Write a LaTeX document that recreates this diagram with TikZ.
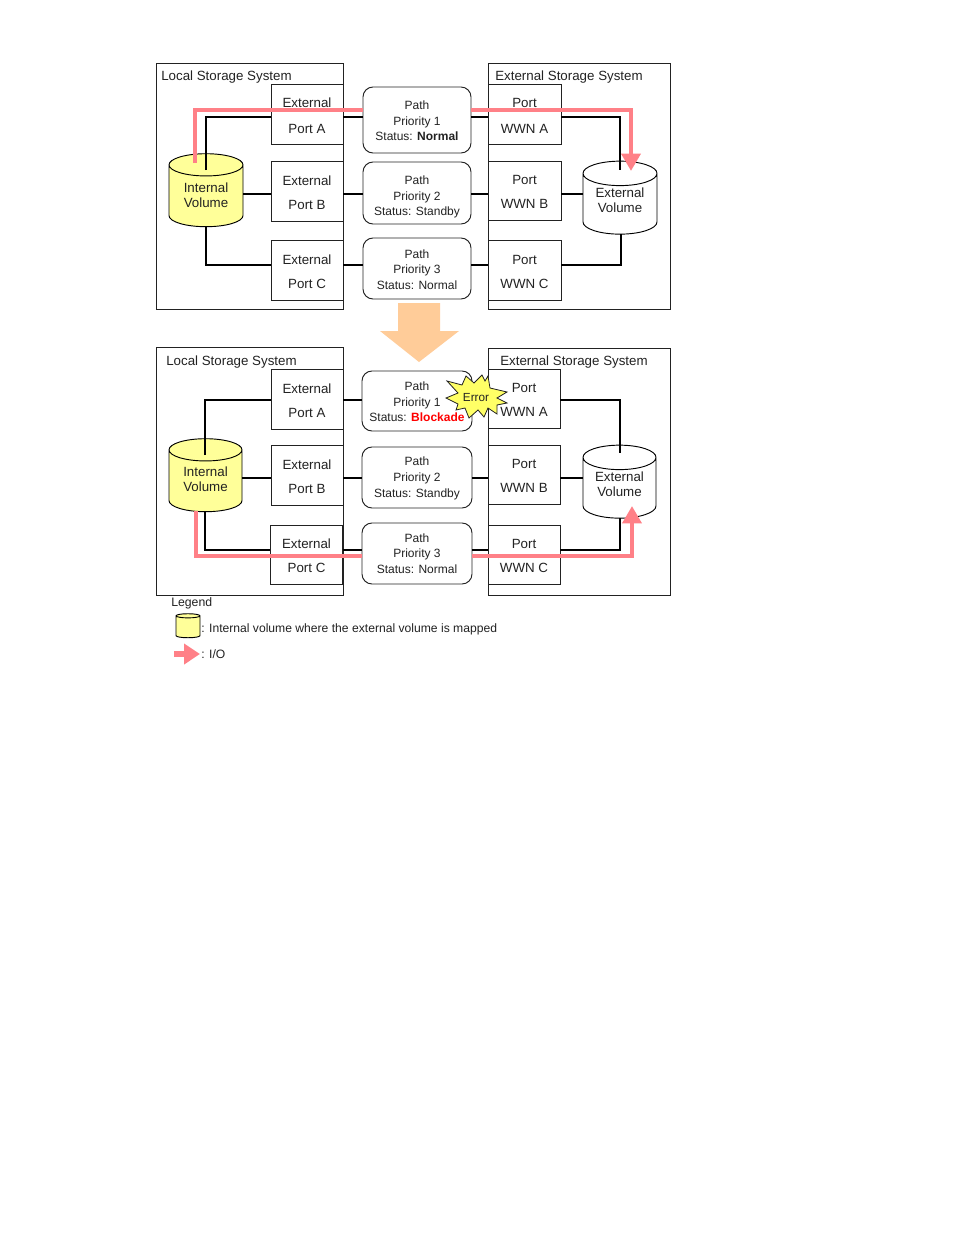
\documentclass[tikz,border=0pt]{standalone}
\usepackage{fontspec}
\setmainfont{Liberation Sans}
\usetikzlibrary{shapes.geometric,arrows.meta}
\definecolor{ioPink}{HTML}{FF8087}
\definecolor{volYellow}{HTML}{FFFF99}
\definecolor{burst}{HTML}{FFFF66}
\definecolor{bigArrow}{HTML}{FFCC99}
\definecolor{ink}{HTML}{222222}
% struts that push a node's text block down (first line) or up (last line)
\newcommand{\lift}[1]{\rule{0pt}{#1}}
\newcommand{\drop}[1]{\rule[-#1]{0pt}{1pt}}
\newcommand{\pl}{\lift{9.5pt}}
\newcommand{\pp}{\lift{8pt}}
\tikzset{
  x=0.75pt, y=-0.75pt,
  sized/.style n args={2}{minimum width=#1*0.75pt, minimum height=#2*0.75pt},
  panel/.style={draw=ink, line width=0.7pt, fill=white, inner sep=0pt},
  portbox/.style={draw=ink, line width=0.7pt, fill=white, inner sep=0pt, align=center,
    text=ink, font=\fontsize{10}{18}\selectfont},
  portlabel/.style={inner sep=0pt, align=center, text=ink, font=\fontsize{10}{18}\selectfont},
  pathbox/.style={draw=ink, line width=0.7pt, fill=white, inner sep=0pt, align=center,
    rounded corners=7.5pt, text=ink, font=\fontsize{9}{11.7}\selectfont},
  title/.style={inner sep=0pt, text=ink, font=\fontsize{10}{12}\selectfont, anchor=west},
  note/.style={inner sep=0pt, text=ink, font=\fontsize{9.1}{11}\selectfont, anchor=west},
  volume/.style={cylinder, shape border rotate=90, draw=black, line width=0.7pt, inner sep=0pt,
    shape aspect=0.5, align=center, text=ink, font=\fontsize{10}{11.6}\selectfont},
  yellowvol/.style={volume, cylinder uses custom fill, cylinder body fill=volYellow, cylinder end fill=volYellow},
  whitevol/.style={volume, cylinder uses custom fill, cylinder body fill=white, cylinder end fill=white},
  link/.style={draw=black, line width=2pt},
  thinlink/.style={draw=black, line width=1.2pt},
  io/.style={draw=ioPink, line width=3.6pt},
  iotip/.style={io, -{Triangle[length=13pt, width=14pt, color=ioPink]}},
}
\begin{document}
\begin{tikzpicture}
\useasboundingbox (0,0) rectangle (954,1235);
\fill[white] (0,0) rectangle (954,1235);

% ---------- upper state: I/O over path 1 ----------
\node[panel, sized={187}{246}] (localU) at (249.5,186) {};
\node[panel, sized={182}{246}] (extU) at (579,186) {};
\node[title] (localUt) at (161,77) {Local Storage System};
\node[title] (extUt) at (495,77) {External Storage System};

\node[portbox, sized={72}{60}] (epA) at (307,114) {\pl External\\[1.5pt]Port A};
\node[portbox, sized={72}{60}] (epB) at (307,191) {\pl External\\Port B};
\node[portbox, sized={72}{60}] (epC) at (307,270) {\pl External\\Port C};
\node[portbox, sized={73}{60}] (wwA) at (524.5,114) {\pl Port\\[1.5pt]WWN A};
\node[portbox, sized={73}{59}] (wwB) at (524.5,190.5) {\pl Port\\WWN B};
\node[portbox, sized={73}{60}] (wwC) at (524.5,270) {\pl Port\\WWN C};

\node[pathbox, sized={108}{66}] (pA) at (417,120) {\pp Path\\Priority 1\\Status: \textbf{Normal}};
\node[pathbox, sized={108}{62}] (pB) at (417,193) {\lift{12.5pt}Path\\Priority 2\\Status: Standby};
\node[pathbox, sized={108}{61}] (pC) at (417,268.5) {\pp Path\\Priority 3\\Status: Normal};

\coordinate (intUin) at (206,170);
\coordinate (extUin) at (620,170);
\coordinate (intUout) at (206,227);
\coordinate (extUout) at (621,234);
\coordinate (ioUfrom) at (195,163);
\coordinate (ioUto) at (631,171);

\node[yellowvol, sized={74}{73}] (intU) at (206,196) {Internal\\Volume\drop{1.5pt}};
\node[whitevol, sized={74}{73}] (extV) at (620,204) {External\\Volume\drop{6pt}};

\draw[link] (intUin) |- (epA.west |- 0,117);
\draw[link] (epA.east |- 0,117) -- (pA.west |- 0,117);
\draw[link] (pA.east |- 0,117) -- (wwA.west |- 0,117);
\draw[link] (wwA.east |- 0,117) -| (extUin);
\draw[link] (intU.east |- 0,194) -- (epB.west |- 0,194);
\draw[link] (epB.east |- 0,194) -- (pB.west |- 0,194);
\draw[link] (pB.east |- 0,194) -- (wwB.west |- 0,194);
\draw[link] (wwB.east |- 0,194) -- (extV.west |- 0,194);
\draw[link] (intUout) |- (epC.west |- 0,265);
\draw[link] (epC.east |- 0,265) -- (pC.west |- 0,265);
\draw[link] (pC.east |- 0,265) -- (wwC.west |- 0,265);
\draw[link] (wwC.east |- 0,265) -| (extUout);

\draw[io] (ioUfrom) |- (pA.west |- 0,110);
\draw[iotip] (pA.east |- 0,110) -| (ioUto);

% ---------- transition arrow ----------
\fill[bigArrow] (398,303) -- (440,303) -- (440,331) -- (459,331) -- (419,362)
  -- (380,331) -- (398,331) -- cycle;

% ---------- lower state: path 1 blocked, I/O over path 3 ----------
\node[panel, sized={187}{248}] (localL) at (249.5,471) {};
\node[panel, sized={182}{247}] (extL) at (579,471.5) {};
\node[title] (localLt) at (166,362) {Local Storage System};
\node[title] (extLt) at (500,362) {External Storage System};

\node[portbox, sized={72}{60}] (lepA) at (307,399) {\pl External\\Port A};
\node[portbox, sized={72}{60}] (lepB) at (307,475) {\pl External\\Port B};
\node[portbox, sized={72}{59}] (lepC) at (306.5,554.5) {\pl External\\Port C};
\node[portbox, sized={72}{59}] (lwwA) at (524,398.5) {};
\node[portbox, sized={72}{59}] (lwwB) at (524,474.5) {\pl Port\\WWN B};
\node[portbox, sized={72}{59}] (lwwC) at (524,554.5) {\pl Port\\WWN C};

\node[pathbox, sized={110}{60}] (lpA) at (417,401) {\pp Path\\Priority 1\\Status: \textcolor{red}{\textbf{Blockade}}};
\node[pathbox, sized={110}{61}] (lpB) at (417,477.5) {\pp Path\\Priority 2\\Status: Standby};
\node[pathbox, sized={110}{61}] (lpC) at (417,553.5) {Path\\Priority 3\\Status: Normal};

\coordinate (intLin) at (205,455);
\coordinate (extLin) at (620,453);
\coordinate (intLout) at (205,511);
\coordinate (extLout) at (620,518);
\coordinate (ioLfrom) at (196,511);
\coordinate (ioLto) at (632,506);

\node[yellowvol, sized={73}{73}] (intL) at (205.5,481) {Internal\\Volume\drop{2.5pt}};
\node[whitevol, sized={73}{73}] (extW) at (619.5,488) {External\\Volume\drop{6pt}};

\draw[thinlink] (intLin) |- (lepA.west |- 0,400);
\draw[thinlink] (lepA.east |- 0,400) -- (lpA.west |- 0,400);
\draw[thinlink] (lpA.east |- 0,400) -- (lwwA.west |- 0,400);
\draw[thinlink] (lwwA.east |- 0,400) -| (extLin);
\draw[link] (intL.east |- 0,478) -- (lepB.west |- 0,478);
\draw[link] (lepB.east |- 0,478) -- (lpB.west |- 0,478);
\draw[link] (lpB.east |- 0,478) -- (lwwB.west |- 0,478);
\draw[link] (lwwB.east |- 0,478) -- (extW.west |- 0,478);
\draw[link] (intLout) |- (lepC.west |- 0,550);
\draw[link] (lepC.east |- 0,550) -- (lpC.west |- 0,550);
\draw[link] (lpC.east |- 0,550) -- (lwwC.west |- 0,550);
\draw[link] (lwwC.east |- 0,550) -| (extLout);

\draw[io] (ioLfrom) |- (lpC.west |- 0,556);
\draw[iotip] (lpC.east |- 0,556) -| (ioLto);

% error burst across path 1 and its port
\filldraw[fill=burst, draw=ink, line width=0.6pt]
  (447,381) -- (462,385) -- (466,376) -- (474,383) -- (482,375) -- (485,381) -- (488,376)
  -- (490,388) -- (507,392) -- (497,398) -- (507,403) -- (497,405) -- (497,414) -- (488,408)
  -- (484,417) -- (478,410) -- (469,418) -- (465,408) -- (456,410) -- (458,404) -- (446,398)
  -- (458,393) -- cycle;
\node[inner sep=0pt, text=ink, font=\fontsize{8.8}{10}\selectfont] (errorLabel) at (476,397.5) {Error};
\node[portlabel] (lwwAt) at (524,400) {Port\\WWN A};

% ---------- legend ----------
\node[title] (legendT) at (171,603) {\fontsize{9.2}{11}\selectfont Legend};
\node[yellowvol, sized={24}{24}, shape aspect=1.4] (legendV) at (188,627) {\phantom{i}};
\node[note] (legendVt) at (201,629) {: Internal volume where the external volume is mapped};
\coordinate (legendFrom) at (174,654);
\coordinate (legendTo) at (200,654);
\draw[io, line width=4.2pt, -{Triangle[length=12pt, width=15pt, color=ioPink]}] (legendFrom) -- (legendTo);
\node[note] (legendIt) at (201,654) {: I/O};
\end{tikzpicture}
\end{document}
